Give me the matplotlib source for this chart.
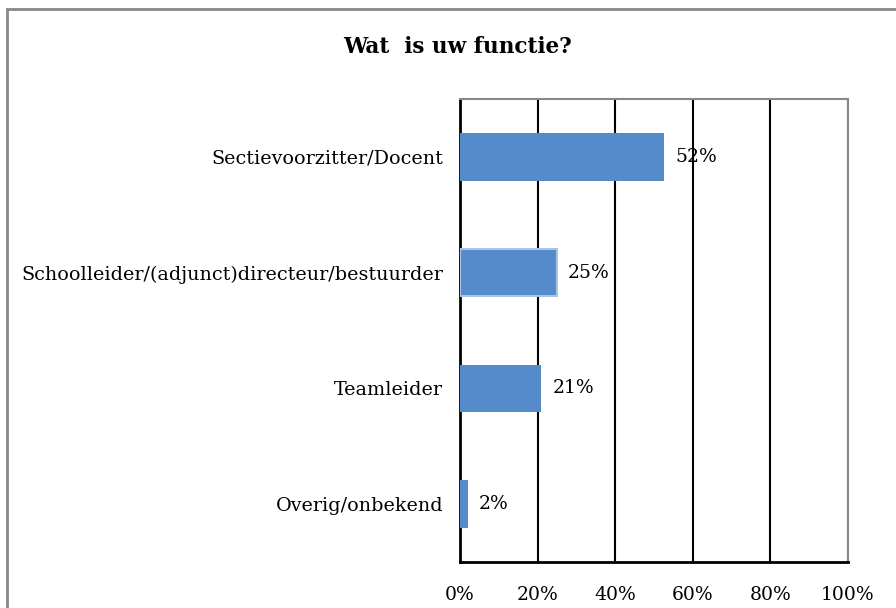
import matplotlib.pyplot as plt
import matplotlib.patches as patches

# data
categories = ["Sectievoorzitter/Docent",
              "Schoolleider/(adjunct)directeur/bestuurder",
              "Teamleider",
              "Overig/onbekend"]
values = [52.6, 25, 21, 2]
labels = ["52%", "25%", "21%", "2%"]
xticks = [0, 20, 40, 60, 80, 100]

plt.rcParams['font.family'] = ['DejaVu Serif']

fig = plt.figure(figsize=(8.96, 6.08), dpi=100)
ax = fig.add_axes([460/896, 1 - 562/608, 388/896, 463/608])

ypos = list(range(len(categories)))
bars = ax.barh(ypos, values, height=0.41, color='#558acb', zorder=3)
bars[1].set_edgecolor('#a9c4e6')
bars[1].set_linewidth(1.5)

for y, v, t in zip(ypos, values, labels):
    ax.text(v + 2.8, y, t, va='center', ha='left', fontsize=13.5, zorder=4)

ax.set_xlim(0, 100)
ax.set_ylim(len(categories) - 0.5, -0.5)
ax.set_xticks(xticks)
ax.set_xticklabels([f"{t}%" for t in xticks], fontsize=13.5)
ax.set_yticks(ypos)
ax.set_yticklabels(categories, fontsize=13.8)
ax.tick_params(axis='y', length=0, pad=12)
ax.tick_params(axis='x', length=0, pad=17)
ax.xaxis.grid(True, color='black', linewidth=1.5, zorder=1)

ax.spines['left'].set_color('black')
ax.spines['left'].set_linewidth(2)
ax.spines['bottom'].set_color('black')
ax.spines['bottom'].set_linewidth(2)
ax.spines['top'].set_color('#888888')
ax.spines['top'].set_linewidth(1.5)
ax.spines['right'].set_color('#888888')
ax.spines['right'].set_linewidth(1.5)

fig.text(457/896, 1 - 47/608, "Wat  is uw functie?", ha='center', va='center',
         fontsize=15.5, fontweight='bold')

# outer chart border (cut off at right and bottom)
fig.patches.append(patches.Rectangle((7/896, -0.5), 2, 1.5 - 9/608,
                                     transform=fig.transFigure, fill=False,
                                     edgecolor='#888888', linewidth=2))

fig.savefig('out.png', dpi=100)
